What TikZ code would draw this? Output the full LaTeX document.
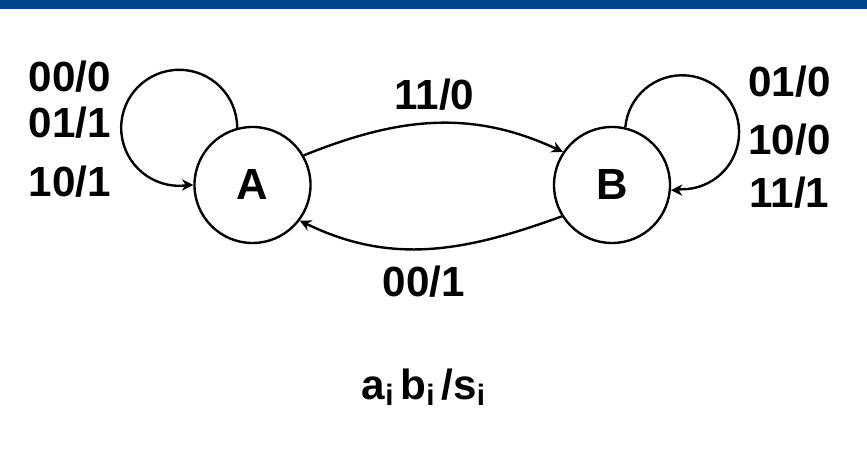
\documentclass[tikz,border=0pt]{standalone}
\usepackage{fontspec}
\setmainfont{Liberation Sans}
\usetikzlibrary{arrows.meta}
\definecolor{bandblue}{RGB}{0,68,138}
\newcommand{\lowi}{\raisebox{-4.2pt}{\fontsize{21}{21}\selectfont i}}
\begin{document}
\begin{tikzpicture}[x=0.025cm, y=0.025cm,
  state/.style={circle, draw, line width=1.7pt, inner sep=0pt, minimum size=2.9cm,
                font=\fontsize{31}{31}\selectfont\bfseries},
  lbl/.style={anchor=base, inner sep=0pt, font=\fontsize{30}{30}\selectfont\bfseries},
  conn/.style={draw, line width=1.7pt, -{Stealth[length=8pt, width=8pt, inset=2.5pt]}}]
  \useasboundingbox (0,0) rectangle (867,451);
  % header band
  \fill[bandblue] (0,442) rectangle (867,451);

  % states
  \node[state] (A) at (252.5,266) {A};
  \node[state] (B) at (612,266) {B};

  % transitions between the states
  \draw[conn] (A.30) to[out=22, in=155] (B.146);
  \draw[conn] (B.212) to[out=200, in=-26] (A.323);

  % self loops
  \draw[conn] (A.105) arc[start angle=0, end angle=270, radius=58]
              to[out=0, in=180] (A.west);
  \draw[conn] (B.77) arc[start angle=175, end angle=-90, radius=57]
              to[out=180, in=0] (B.-5);

  % transition labels
  \node[lbl] (la1) at (70,359) {00/0};
  \node[lbl] (la2) at (70,313) {01/1};
  \node[lbl] (la3) at (70,254) {10/1};
  \node[lbl] (lb1) at (789.5,354) {01/0};
  \node[lbl] (lb2) at (789.5,296) {10/0};
  \node[lbl] (lb3) at (789.5,243) {11/1};
  \node[lbl] (lab) at (434.5,341) {11/0};
  \node[lbl] (lba) at (424,154) {00/1};

  % legend
  \node[lbl] (key) at (423.5,51) {a\lowi\,b\lowi\,/s\lowi};
\end{tikzpicture}
\end{document}
